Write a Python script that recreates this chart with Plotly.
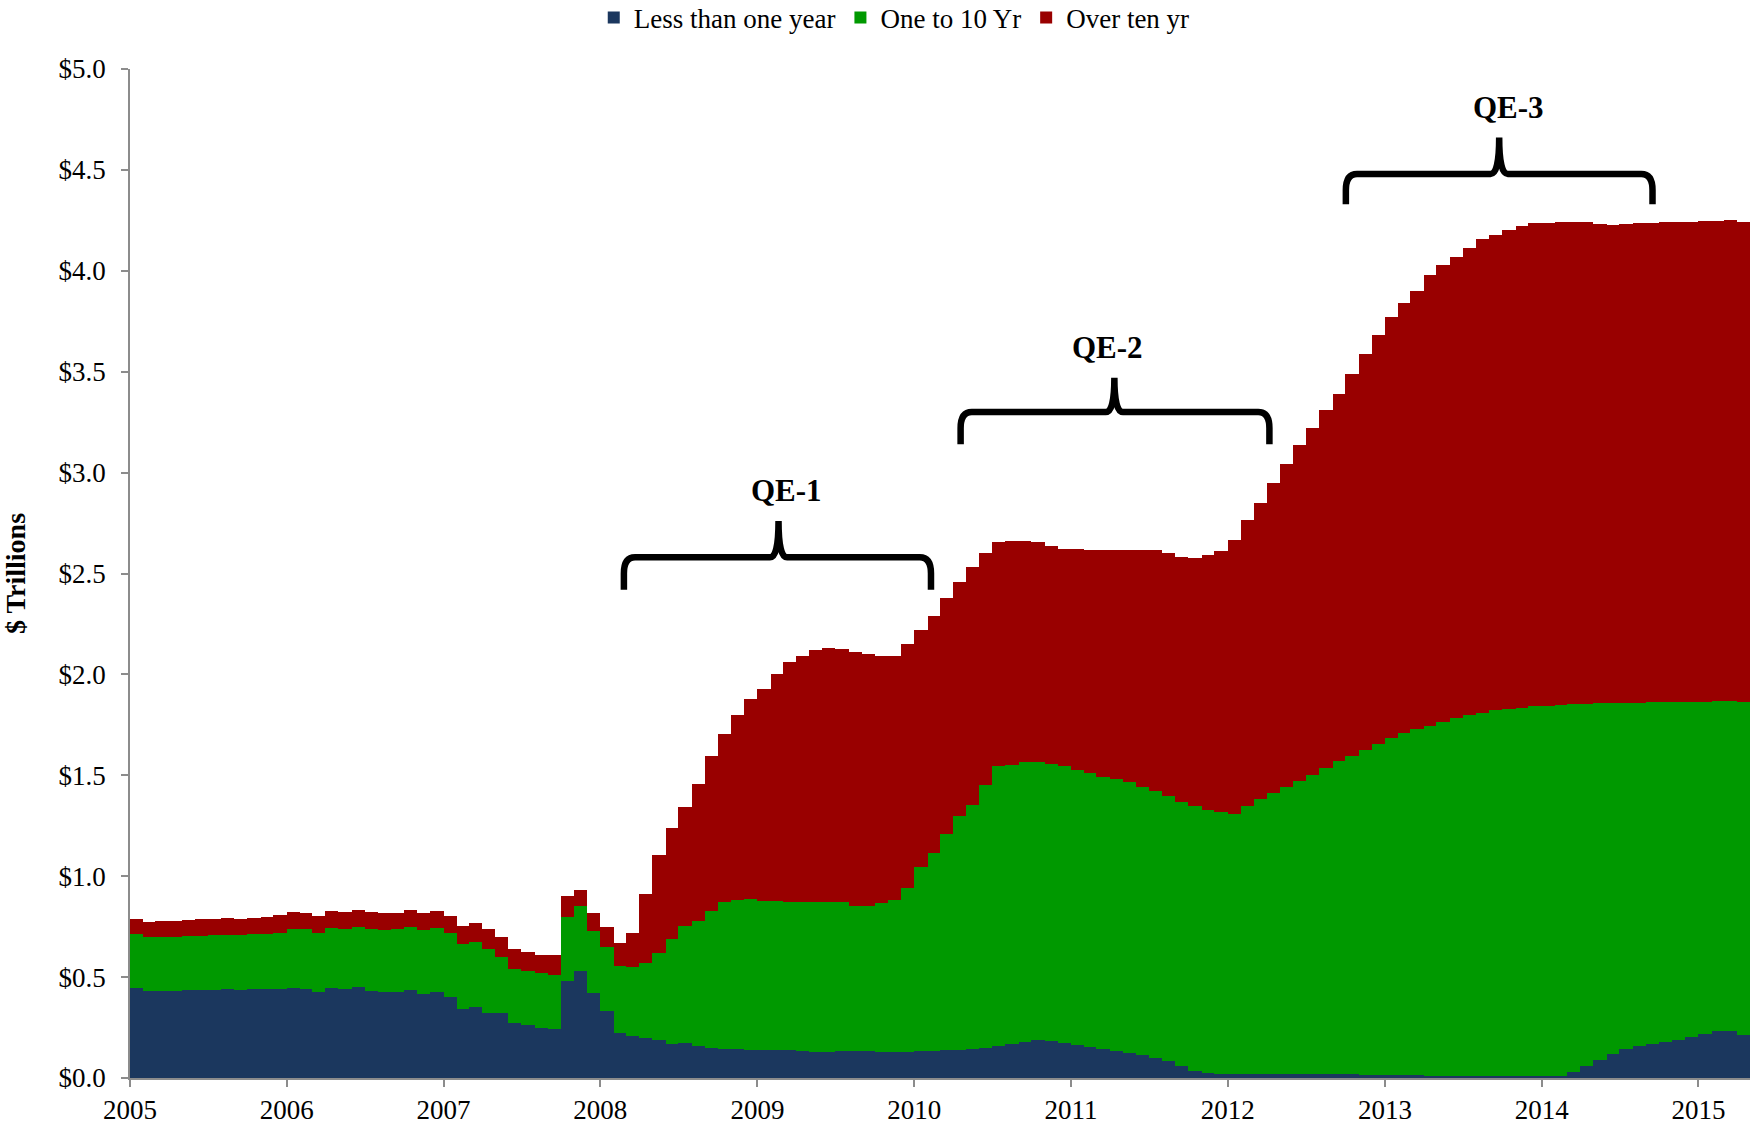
import pandas as pd
import plotly.graph_objects as go

# Monthly holdings, Jan 2005 - Apr 2015 ($ trillions)
months = pd.date_range("2005-01-01", "2015-04-01", freq="MS")

less_than_one_year = [
    # 2005
    0.447, 0.430, 0.432, 0.432, 0.435, 0.437, 0.437, 0.440, 0.437, 0.440, 0.440, 0.440,
    # 2006
    0.447, 0.440, 0.425, 0.447, 0.443, 0.450, 0.433, 0.425, 0.428, 0.435, 0.418, 0.425,
    # 2007
    0.400, 0.340, 0.350, 0.320, 0.320, 0.275, 0.263, 0.247, 0.242, 0.480, 0.530, 0.420,
    # 2008
    0.330, 0.225, 0.210, 0.200, 0.190, 0.170, 0.175, 0.160, 0.150, 0.145, 0.145, 0.140,
    # 2009
    0.140, 0.140, 0.140, 0.135, 0.130, 0.130, 0.135, 0.135, 0.135, 0.130, 0.130, 0.130,
    # 2010
    0.135, 0.135, 0.140, 0.140, 0.145, 0.150, 0.160, 0.170, 0.180, 0.190, 0.185, 0.175,
    # 2011
    0.165, 0.155, 0.145, 0.135, 0.125, 0.115, 0.100, 0.085, 0.060, 0.035, 0.025, 0.020,
    # 2012
    0.020, 0.020, 0.020, 0.020, 0.020, 0.020, 0.020, 0.020, 0.020, 0.020, 0.015, 0.015,
    # 2013
    0.015, 0.015, 0.015, 0.012, 0.010, 0.010, 0.010, 0.010, 0.010, 0.010, 0.010, 0.010,
    # 2014
    0.010, 0.010, 0.030, 0.060, 0.090, 0.120, 0.145, 0.160, 0.170, 0.180, 0.190, 0.205,
    # 2015
    0.220, 0.235, 0.235, 0.215,
]

one_to_ten_yr = [
    0.266, 0.267, 0.268, 0.268, 0.268, 0.268, 0.270, 0.267, 0.271, 0.272, 0.275, 0.280,
    0.291, 0.297, 0.295, 0.296, 0.295, 0.300, 0.305, 0.310, 0.309, 0.315, 0.317, 0.318,
    0.317, 0.325, 0.325, 0.320, 0.280, 0.265, 0.267, 0.273, 0.268, 0.320, 0.320, 0.310,
    0.320, 0.330, 0.340, 0.370, 0.430, 0.520, 0.580, 0.620, 0.680, 0.725, 0.735, 0.745,
    0.735, 0.735, 0.732, 0.737, 0.740, 0.740, 0.735, 0.715, 0.715, 0.735, 0.750, 0.810,
    0.910, 0.980, 1.070, 1.160, 1.210, 1.300, 1.385, 1.380, 1.385, 1.375, 1.370, 1.370,
    1.360, 1.355, 1.345, 1.345, 1.340, 1.325, 1.320, 1.310, 1.310, 1.315, 1.305, 1.300,
    1.290, 1.330, 1.365, 1.390, 1.420, 1.450, 1.480, 1.515, 1.550, 1.575, 1.610, 1.640,
    1.670, 1.695, 1.715, 1.733, 1.755, 1.775, 1.790, 1.800, 1.815, 1.820, 1.825, 1.835,
    1.835, 1.840, 1.825, 1.795, 1.770, 1.740, 1.715, 1.700, 1.695, 1.685, 1.675, 1.660,
    1.645, 1.635, 1.635, 1.650,
]

over_ten_yr = [
    0.077, 0.078, 0.080, 0.080, 0.080, 0.081, 0.083, 0.086, 0.082, 0.083, 0.085, 0.090,
    0.084, 0.083, 0.085, 0.084, 0.084, 0.083, 0.084, 0.083, 0.083, 0.085, 0.085, 0.087,
    0.088, 0.090, 0.095, 0.100, 0.100, 0.100, 0.095, 0.090, 0.100, 0.100, 0.080, 0.090,
    0.100, 0.115, 0.170, 0.340, 0.485, 0.550, 0.590, 0.677, 0.765, 0.835, 0.920, 0.995,
    1.055, 1.125, 1.188, 1.218, 1.250, 1.260, 1.255, 1.260, 1.250, 1.225, 1.210, 1.210,
    1.175, 1.175, 1.170, 1.160, 1.175, 1.150, 1.110, 1.110, 1.095, 1.090, 1.080, 1.075,
    1.095, 1.105, 1.125, 1.135, 1.150, 1.175, 1.195, 1.205, 1.210, 1.225, 1.260, 1.290,
    1.355, 1.415, 1.465, 1.540, 1.605, 1.665, 1.720, 1.775, 1.820, 1.895, 1.965, 2.025,
    2.085, 2.130, 2.170, 2.235, 2.265, 2.285, 2.315, 2.350, 2.350, 2.370, 2.385, 2.390,
    2.390, 2.390, 2.385, 2.385, 2.370, 2.365, 2.370, 2.375, 2.370, 2.375, 2.375, 2.375,
    2.380, 2.375, 2.380, 2.375,
]

series = [
    ("Less than one year", less_than_one_year, "#1B375E"),
    ("One to 10 Yr", one_to_ten_yr, "#009900"),
    ("Over ten yr", over_ten_yr, "#990000"),
]

# QE programme brackets: start, end, centre (stem), label position, levels
qe_programs = [
    ("QE-1", "2008-02-25", "2010-02-09", "2009-02-19", "2009-03-10", 2.42, 2.58, 2.76, 2.91),
    ("QE-2", "2010-04-19", "2012-04-07", "2011-04-12", "2011-03-26", 3.14, 3.30, 3.47, 3.62),
    ("QE-3", "2012-10-02", "2014-09-16", "2013-09-24", "2013-10-16", 4.33, 4.48, 4.66, 4.81),
]

FONT = "Liberation Serif"
MS_PER_DAY = 86400000
widths = [d * MS_PER_DAY for d in months.days_in_month]

fig = go.Figure()
for name, vals, color in series:
    fig.add_trace(go.Bar(
        x=months, y=vals, name=name,
        offset=0, width=widths,
        marker=dict(color=color, line=dict(width=0)),
    ))


def brace_path(x0, x1, xc, y_tip, y_bar, y_peak):
    t0, t1, tc = pd.Timestamp(x0), pd.Timestamp(x1), pd.Timestamp(xc)
    end = pd.Timedelta(days=26)
    mid = pd.Timedelta(days=20)
    r = 0.08

    def f(t):
        return t.strftime("%Y-%m-%d_%H:%M:%S")

    return (
        f"M {f(t0)},{y_tip} L {f(t0)},{y_bar - r} "
        f"Q {f(t0)},{y_bar} {f(t0 + end)},{y_bar} "
        f"L {f(tc - mid)},{y_bar} Q {f(tc)},{y_bar} {f(tc)},{y_peak} "
        f"Q {f(tc)},{y_bar} {f(tc + mid)},{y_bar} "
        f"L {f(t1 - end)},{y_bar} Q {f(t1)},{y_bar} {f(t1)},{y_bar - r} "
        f"L {f(t1)},{y_tip}"
    )


for label, x0, x1, xc, xl, y_tip, y_bar, y_peak, y_lab in qe_programs:
    fig.add_shape(
        type="path", xref="x", yref="y",
        path=brace_path(x0, x1, xc, y_tip, y_bar, y_peak),
        line=dict(color="black", width=6.5),
    )
    fig.add_annotation(
        x=xl, y=y_lab, xref="x", yref="y", text=f"<b>{label}</b>",
        showarrow=False, font=dict(family=FONT, size=31, color="black"),
    )

axis_style = dict(
    showline=True, linecolor="#8c8c8c", linewidth=1.5,
    ticks="outside", tickcolor="#8c8c8c", ticklen=7, tickwidth=1.5,
    showgrid=False, zeroline=False, automargin=False,
    tickfont=dict(family=FONT, size=27, color="black"),
)

fig.update_layout(
    width=1750, height=1125,
    margin=dict(l=130, r=0, t=69, b=47),
    plot_bgcolor="white", paper_bgcolor="white",
    barmode="stack", bargap=0,
    showlegend=True,
    legend=dict(
        orientation="h", xref="container", x=0.511, xanchor="center",
        yref="container", y=0.984, yanchor="middle",
        traceorder="normal", font=dict(family=FONT, size=27, color="black"),
    ),
    xaxis=dict(
        type="date", range=["2005-01-01", "2015-05-01"],
        tick0="2005-01-01", dtick="M12", tickformat="%Y",
        ticklabelstandoff=0,
        **axis_style,
    ),
    yaxis=dict(
        range=[0, 5], dtick=0.5, tickprefix="$", tickformat=".1f",
        ticklabelstandoff=10,
        title=dict(text="$ Trillions", standoff=32,
                   font=dict(family=FONT, size=28, color="black", weight="bold")),
        **axis_style,
    ),
)

# drop the default page margin so the figure sits at the window's top-left
fig.write_html(
    "out.html",
    config={"displayModeBar": False},
    post_script="document.body.style.margin = '0';",
)
